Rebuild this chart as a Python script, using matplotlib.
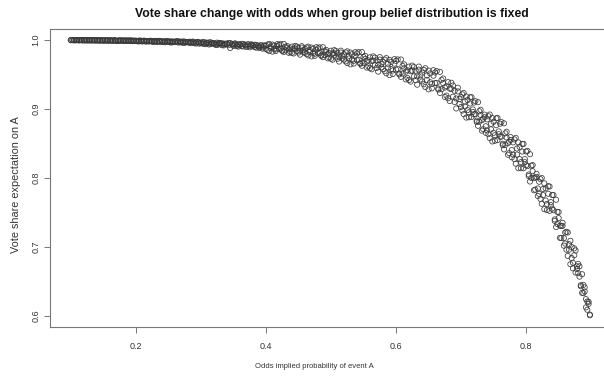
import matplotlib
matplotlib.use("Agg")
from matplotlib import pyplot as plt

# odds implied probability of A (x) and expected vote share on A (y)
odds_low = [
    0.1000, 0.1025, 0.1050, 0.1075, 0.1100, 0.1125, 0.1150, 0.1175,
    0.1200, 0.1225, 0.1250, 0.1275, 0.1300, 0.1325, 0.1350, 0.1375,
    0.1400, 0.1425, 0.1450, 0.1475, 0.1500, 0.1525, 0.1550, 0.1575,
    0.1600, 0.1625, 0.1650, 0.1675, 0.1700, 0.1725, 0.1750, 0.1775,
    0.1800, 0.1825, 0.1850, 0.1875, 0.1900, 0.1925, 0.1950, 0.1975,
    0.2000, 0.2025, 0.2050, 0.2075, 0.2100, 0.2125, 0.2150, 0.2175,
    0.2200, 0.2225, 0.2250, 0.2275, 0.2300, 0.2325, 0.2350, 0.2375,
    0.2400, 0.2425, 0.2450, 0.2475, 0.2500, 0.2525, 0.2550, 0.2575,
    0.2600, 0.2625, 0.2650, 0.2675, 0.2700, 0.2725, 0.2750, 0.2775,
    0.2800, 0.2825, 0.2850, 0.2875, 0.2900, 0.2925, 0.2950, 0.2975,
    0.3000, 0.3025, 0.3050, 0.3075, 0.3100, 0.3125, 0.3150, 0.3175,
    0.3200, 0.3225, 0.3250, 0.3275, 0.3300, 0.3325, 0.3350, 0.3375,
    0.3400, 0.3425, 0.3450, 0.3475, 0.3500, 0.3525, 0.3550, 0.3575,
    0.3600, 0.3625, 0.3650, 0.3675, 0.3700, 0.3725, 0.3750, 0.3775,
    0.3800, 0.3825, 0.3850, 0.3875, 0.3900, 0.3925, 0.3950, 0.3975,
]
share_low_a = [
    1.0000, 0.9998, 0.9999, 0.9996, 1.0000, 0.9997, 0.9999, 0.9995,
    0.9998, 0.9994, 0.9999, 0.9996, 0.9993, 0.9998, 0.9995, 0.9997,
    0.9995, 0.9998, 0.9991, 0.9996, 0.9993, 0.9997, 0.9990, 0.9995,
    0.9993, 0.9997, 0.9989, 0.9995, 0.9991, 0.9987, 0.9996, 0.9992,
    0.9990, 0.9995, 0.9986, 0.9993, 0.9988, 0.9996, 0.9984, 0.9991,
    0.9988, 0.9982, 0.9993, 0.9985, 0.9979, 0.9991, 0.9986, 0.9981,
    0.9984, 0.9990, 0.9976, 0.9987, 0.9981, 0.9973, 0.9989, 0.9983,
    0.9979, 0.9970, 0.9986, 0.9976, 0.9982, 0.9967, 0.9980, 0.9974,
    0.9975, 0.9983, 0.9964, 0.9978, 0.9969, 0.9980, 0.9960, 0.9973,
    0.9967, 0.9976, 0.9955, 0.9971, 0.9962, 0.9950, 0.9974, 0.9964,
    0.9958, 0.9970, 0.9944, 0.9963, 0.9952, 0.9936, 0.9967, 0.9955,
    0.9950, 0.9931, 0.9962, 0.9945, 0.9957, 0.9925, 0.9948, 0.9938,
    0.9941, 0.9958, 0.9885, 0.9946, 0.9933, 0.9952, 0.9912, 0.9939,
    0.9927, 0.9945, 0.9906, 0.9934, 0.9918, 0.9940, 0.9895, 0.9929,
    0.9913, 0.9932, 0.9889, 0.9920, 0.9902, 0.9928, 0.9876, 0.9915,
]
share_low_b = [
    0.9997, 1.0000, 0.9995, 0.9999, 0.9998, 0.9994, 1.0000, 0.9997,
    0.9995, 0.9999, 0.9993, 0.9997, 0.9999, 0.9994, 0.9998, 0.9992,
    0.9997, 0.9992, 0.9996, 0.9999, 0.9990, 0.9995, 0.9998, 0.9991,
    0.9996, 0.9990, 0.9994, 0.9998, 0.9988, 0.9993, 0.9990, 0.9995,
    0.9993, 0.9987, 0.9996, 0.9989, 0.9994, 0.9985, 0.9992, 0.9988,
    0.9991, 0.9986, 0.9980, 0.9992, 0.9984, 0.9989, 0.9978, 0.9987,
    0.9979, 0.9987, 0.9984, 0.9972, 0.9988, 0.9978, 0.9985, 0.9970,
    0.9983, 0.9975, 0.9968, 0.9984, 0.9972, 0.9979, 0.9964, 0.9977,
    0.9970, 0.9979, 0.9981, 0.9966, 0.9975, 0.9958, 0.9977, 0.9968,
    0.9972, 0.9960, 0.9969, 0.9978, 0.9953, 0.9966, 0.9970, 0.9948,
    0.9962, 0.9949, 0.9968, 0.9940, 0.9960, 0.9965, 0.9941, 0.9952,
    0.9955, 0.9944, 0.9928, 0.9958, 0.9939, 0.9951, 0.9922, 0.9946,
    0.9948, 0.9925, 0.9955, 0.9936, 0.9915, 0.9944, 0.9930, 0.9905,
    0.9936, 0.9911, 0.9942, 0.9925, 0.9899, 0.9933, 0.9912, 0.9938,
    0.9925, 0.9898, 0.9930, 0.9908, 0.9884, 0.9918, 0.9894, 0.9922,
]

odds_mid = [
    0.4000, 0.4025, 0.4050, 0.4075, 0.4100, 0.4125, 0.4150, 0.4175,
    0.4200, 0.4225, 0.4250, 0.4275, 0.4300, 0.4325, 0.4350, 0.4375,
    0.4400, 0.4425, 0.4450, 0.4475, 0.4500, 0.4525, 0.4550, 0.4575,
    0.4600, 0.4625, 0.4650, 0.4675, 0.4700, 0.4725, 0.4750, 0.4775,
    0.4800, 0.4825, 0.4850, 0.4875, 0.4900, 0.4925, 0.4950, 0.4975,
    0.5000, 0.5025, 0.5050, 0.5075, 0.5100, 0.5125, 0.5150, 0.5175,
    0.5200, 0.5225, 0.5250, 0.5275, 0.5300, 0.5325, 0.5350, 0.5375,
    0.5400, 0.5425, 0.5450, 0.5475, 0.5500, 0.5525, 0.5550, 0.5575,
    0.5600, 0.5625, 0.5650, 0.5675, 0.5700, 0.5725, 0.5750, 0.5775,
    0.5800, 0.5825, 0.5850, 0.5875, 0.5900, 0.5925, 0.5950, 0.5975,
    0.6000, 0.6025, 0.6050, 0.6075, 0.6100, 0.6125, 0.6150, 0.6175,
    0.6200, 0.6225, 0.6250, 0.6275, 0.6300, 0.6325, 0.6350, 0.6375,
    0.6400, 0.6425, 0.6450, 0.6475, 0.6500, 0.6525, 0.6550, 0.6575,
    0.6600, 0.6625, 0.6650, 0.6675, 0.6700, 0.6725, 0.6750, 0.6775,
    0.6800, 0.6825, 0.6850, 0.6875, 0.6900, 0.6925, 0.6950, 0.6975,
]
share_mid_a = [
    0.9918, 0.9856, 0.9944, 0.9882, 0.9832, 0.9920, 0.9864, 0.9940,
    0.9930, 0.9876, 0.9842, 0.9944, 0.9851, 0.9888, 0.9815, 0.9878,
    0.9905, 0.9805, 0.9879, 0.9905, 0.9818, 0.9844, 0.9911, 0.9825,
    0.9873, 0.9795, 0.9904, 0.9826, 0.9763, 0.9872, 0.9801, 0.9896,
    0.9881, 0.9814, 0.9771, 0.9896, 0.9781, 0.9825, 0.9734, 0.9811,
    0.9845, 0.9715, 0.9809, 0.9841, 0.9729, 0.9760, 0.9846, 0.9733,
    0.9795, 0.9691, 0.9836, 0.9732, 0.9648, 0.9793, 0.9699, 0.9824,
    0.9807, 0.9714, 0.9654, 0.9825, 0.9666, 0.9727, 0.9601, 0.9706,
    0.9750, 0.9576, 0.9703, 0.9745, 0.9595, 0.9638, 0.9752, 0.9603,
    0.9684, 0.9548, 0.9738, 0.9602, 0.9492, 0.9682, 0.9559, 0.9723,
    0.9698, 0.9579, 0.9501, 0.9718, 0.9514, 0.9591, 0.9429, 0.9562,
    0.9615, 0.9398, 0.9555, 0.9608, 0.9420, 0.9473, 0.9615, 0.9428,
    0.9528, 0.9359, 0.9591, 0.9422, 0.9285, 0.9516, 0.9364, 0.9563,
    0.9529, 0.9379, 0.9281, 0.9539, 0.9287, 0.9375, 0.9175, 0.9331,
    0.9390, 0.9116, 0.9291, 0.9341, 0.9102, 0.9152, 0.9309, 0.9071,
]
share_mid_b = [
    0.9870, 0.9934, 0.9842, 0.9906, 0.9934, 0.9872, 0.9840, 0.9910,
    0.9872, 0.9941, 0.9849, 0.9827, 0.9903, 0.9914, 0.9867, 0.9826,
    0.9814, 0.9875, 0.9914, 0.9842, 0.9881, 0.9788, 0.9890, 0.9853,
    0.9813, 0.9892, 0.9777, 0.9856, 0.9891, 0.9812, 0.9771, 0.9858,
    0.9809, 0.9894, 0.9779, 0.9752, 0.9845, 0.9857, 0.9798, 0.9747,
    0.9728, 0.9805, 0.9854, 0.9760, 0.9810, 0.9688, 0.9819, 0.9769,
    0.9715, 0.9821, 0.9666, 0.9772, 0.9818, 0.9713, 0.9659, 0.9774,
    0.9708, 0.9824, 0.9665, 0.9627, 0.9754, 0.9771, 0.9689, 0.9618,
    0.9594, 0.9696, 0.9763, 0.9637, 0.9703, 0.9542, 0.9716, 0.9651,
    0.9580, 0.9717, 0.9517, 0.9654, 0.9713, 0.9578, 0.9507, 0.9658,
    0.9572, 0.9719, 0.9515, 0.9466, 0.9626, 0.9647, 0.9541, 0.9450,
    0.9420, 0.9548, 0.9630, 0.9473, 0.9555, 0.9353, 0.9570, 0.9488,
    0.9400, 0.9567, 0.9319, 0.9486, 0.9557, 0.9388, 0.9300, 0.9483,
    0.9376, 0.9549, 0.9298, 0.9233, 0.9423, 0.9443, 0.9311, 0.9195,
    0.9156, 0.9296, 0.9381, 0.9179, 0.9264, 0.9008, 0.9255, 0.9143,
]

odds_high = [
    0.700, 0.702, 0.704, 0.706, 0.708, 0.710, 0.712, 0.714, 0.716, 0.718,
    0.720, 0.722, 0.724, 0.726, 0.728, 0.730, 0.732, 0.734, 0.736, 0.738,
    0.740, 0.742, 0.744, 0.746, 0.748, 0.750, 0.752, 0.754, 0.756, 0.758,
    0.760, 0.762, 0.764, 0.766, 0.768, 0.770, 0.772, 0.774, 0.776, 0.778,
    0.780, 0.782, 0.784, 0.786, 0.788, 0.790, 0.792, 0.794, 0.796, 0.798,
    0.800, 0.802, 0.804, 0.806, 0.808, 0.810, 0.812, 0.814, 0.816, 0.818,
    0.820, 0.822, 0.824, 0.826, 0.828, 0.830, 0.832, 0.834, 0.836, 0.838,
    0.840, 0.842, 0.844, 0.846, 0.848, 0.850, 0.852, 0.854, 0.856, 0.858,
    0.860, 0.862, 0.864, 0.866, 0.868, 0.870, 0.872, 0.874, 0.876, 0.878,
    0.880, 0.882, 0.884, 0.886, 0.888, 0.890, 0.892, 0.894, 0.896, 0.898,
]
share_high_a = [
    0.9174, 0.8978, 0.9232, 0.9036, 0.8876, 0.9130, 0.8952, 0.9170, 0.8884, 0.8994,
    0.9093, 0.8924, 0.8812, 0.9099, 0.8816, 0.8913, 0.8687, 0.8860, 0.8919, 0.8655,
    0.8850, 0.8635, 0.8920, 0.8705, 0.8530, 0.8815, 0.8620, 0.8865, 0.8550, 0.8675,
    0.8787, 0.8600, 0.8476, 0.8793, 0.8480, 0.8587, 0.8337, 0.8528, 0.8593, 0.8301,
    0.8516, 0.8274, 0.8582, 0.8340, 0.8142, 0.8450, 0.8230, 0.8494, 0.8142, 0.8274,
    0.8384, 0.8173, 0.8028, 0.8345, 0.8002, 0.8099, 0.7822, 0.8007, 0.8060, 0.7739,
    0.7946, 0.7698, 0.8000, 0.7752, 0.7548, 0.7850, 0.7624, 0.7882, 0.7524, 0.7650,
    0.7754, 0.7533, 0.7378, 0.7685, 0.7332, 0.7419, 0.7132, 0.7307, 0.7350, 0.7019,
    0.7210, 0.6960, 0.7210, 0.6960, 0.6750, 0.7000, 0.6770, 0.6980, 0.6630, 0.6720,
    0.6755, 0.6570, 0.6430, 0.6605, 0.6330, 0.6355, 0.6125, 0.6210, 0.6205, 0.6010,
]
share_high_b = [
    0.9030, 0.9212, 0.8926, 0.9108, 0.9182, 0.8986, 0.8880, 0.9080, 0.9172, 0.8958,
    0.8922, 0.9114, 0.8831, 0.8757, 0.8968, 0.8989, 0.8839, 0.8708, 0.8881, 0.8750,
    0.8690, 0.8895, 0.8580, 0.8785, 0.8870, 0.8655, 0.8540, 0.8765, 0.8870, 0.8635,
    0.8598, 0.8810, 0.8497, 0.8415, 0.8648, 0.8671, 0.8505, 0.8360, 0.8551, 0.8406,
    0.8340, 0.8560, 0.8208, 0.8428, 0.8516, 0.8274, 0.8142, 0.8384, 0.8494, 0.8230,
    0.8186, 0.8393, 0.8050, 0.7949, 0.8178, 0.8187, 0.7998, 0.7831, 0.8016, 0.7849,
    0.7770, 0.7984, 0.7626, 0.7840, 0.7922, 0.7674, 0.7536, 0.7772, 0.7876, 0.7606,
    0.7556, 0.7753, 0.7400, 0.7289, 0.7508, 0.7507, 0.7308, 0.7131, 0.7306, 0.7129,
    0.7050, 0.7220, 0.6870, 0.7040, 0.7090, 0.6840, 0.6690, 0.6880, 0.6950, 0.6680,
    0.6620, 0.6720, 0.6445, 0.6335, 0.6450, 0.6415, 0.6245, 0.6090, 0.6175, 0.6020,
]

x_ticks = [0.2, 0.4, 0.6, 0.8]
y_ticks = [0.6, 0.7, 0.8, 0.9, 1.0]

plt.rcParams['font.family'] = ['Liberation Sans', 'DejaVu Sans']
txt = '#333333'
edge = '#777777'

fig = plt.figure(figsize=(6.04, 3.83), dpi=100)
# plot box: px 50..612 wide, 29..327 tall (right side cut off in the reference)
ax = fig.add_axes([50 / 604, (383 - 327) / 383, 562 / 604, 298 / 383])

series = [
    (odds_low, share_low_a), (odds_low, share_low_b),
    (odds_mid, share_mid_a), (odds_mid, share_mid_b),
    (odds_high, share_high_a), (odds_high, share_high_b),
]
for xs, ys in series:
    ax.scatter(xs, ys, s=14, facecolors='none', edgecolors='#3a3a3a', linewidths=0.55)

ax.set_xlim(0.068, 0.932)
ax.set_ylim(0.584, 1.016)
ax.set_xticks(x_ticks)
ax.set_xticklabels(['0.2', '0.4', '0.6', '0.8'])
ax.set_yticks(y_ticks)
ax.set_yticklabels(['0.6', '0.7', '0.8', '0.9', '1.0'])

for sp in ax.spines.values():
    sp.set_color(edge)
    sp.set_linewidth(0.8)
ax.tick_params(length=4.5, width=0.7, color=edge, labelsize=6.5, labelcolor=txt)
ax.tick_params(axis='x', pad=6)
ax.tick_params(axis='y', pad=2.5, labelrotation=90)
for lab in ax.get_yticklabels():
    lab.set_va('center')

fig.text(332 / 604, 1 - 14 / 383, 'Vote share change with odds when group belief distribution is fixed',
         ha='center', va='center', fontsize=8.8, fontweight='bold', color='#111111')
fig.text(314 / 604, 1 - 367 / 383, 'Odds implied probability of event A',
         ha='center', va='center', fontsize=5.5, color=txt)
fig.text(16 / 604, 1 - 185 / 383, 'Vote share expectation on A',
         ha='center', va='center', rotation=90, fontsize=7.8, color=txt)

fig.savefig('out.png', dpi=100)
